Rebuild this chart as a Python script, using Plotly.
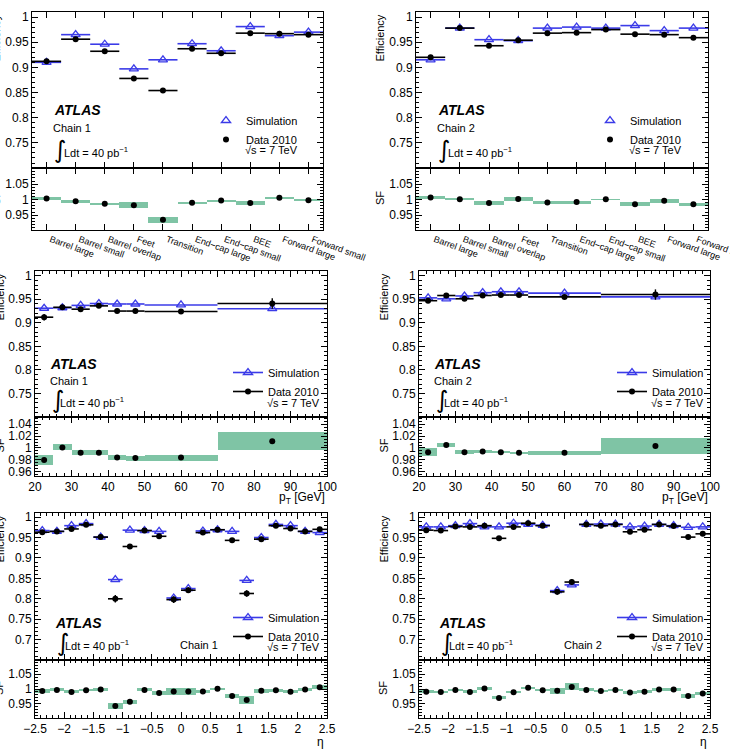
import plotly.graph_objects as go

W, H = 730, 749
FONT = "Liberation Sans, Arial, Helvetica, sans-serif"
BLUE = "#3b3be8"
GREEN = "#7fc4a5"

# ---------------- data ----------------
regions = ["Barrel large", "Barrel small", "Barrel overlap", "Feet", "Transition",
           "End\u2212cap large", "End\u2212cap small", "BEE", "Forward large", "Forward small"]
region_edges = [0, 1, 2, 3, 4, 5, 6, 7, 8, 9, 10]
pt_edges = [20, 25, 30, 35, 40, 45, 50, 70, 100]
eta_edges = [-2.5, -2.25, -2.0, -1.75, -1.5, -1.25, -1.0, -0.75, -0.5, -0.25, 0.0,
             0.25, 0.5, 0.75, 1.0, 1.25, 1.5, 1.75, 2.0, 2.25, 2.5]
sf_ticks_wide = [0.95, 1.0, 1.05]
sf_ticks_pt = [0.96, 0.98, 1.0, 1.02, 1.04]

# Chain 1 vs region
c1_reg_sim = [0.910, 0.965, 0.946, 0.897, 0.915, 0.947, 0.933, 0.981, 0.963, 0.970]
c1_reg_data = [0.912, 0.956, 0.932, 0.878, 0.854, 0.937, 0.928, 0.968, 0.967, 0.965]
c1_reg_derr = [0.003, 0.002, 0.003, 0.005, 0.004, 0.003, 0.003, 0.003, 0.003, 0.003]
c1_reg_sf = [1.004, 0.995, 0.987, 0.982, 0.935, 0.990, 0.997, 0.989, 1.006, 0.998]
c1_reg_sferr = [0.004, 0.003, 0.003, 0.010, 0.009, 0.003, 0.003, 0.006, 0.004, 0.004]

# Chain 2 vs region
c2_reg_sim = [0.915, 0.978, 0.955, 0.953, 0.978, 0.980, 0.978, 0.983, 0.973, 0.978]
c2_reg_data = [0.920, 0.978, 0.943, 0.954, 0.968, 0.969, 0.975, 0.966, 0.965, 0.959]
c2_reg_derr = [0.003, 0.002, 0.003, 0.003, 0.002, 0.002, 0.002, 0.003, 0.003, 0.003]
c2_reg_sf = [1.007, 1.001, 0.989, 1.002, 0.991, 0.992, 1.001, 0.985, 0.996, 0.985]
c2_reg_sferr = [0.005, 0.002, 0.005, 0.005, 0.003, 0.003, 0.001, 0.007, 0.006, 0.005]

# Chain 1 vs pT
c1_pt_sim = [0.931, 0.932, 0.937, 0.941, 0.940, 0.940, 0.938, 0.930]
c1_pt_data = [0.912, 0.933, 0.929, 0.936, 0.925, 0.925, 0.924, 0.941]
c1_pt_derr = [0.007, 0.003, 0.003, 0.003, 0.002, 0.002, 0.003, 0.011]
c1_pt_sf = [0.980, 1.001, 0.992, 0.992, 0.984, 0.983, 0.984, 1.0115]
c1_pt_sferr = [0.009, 0.005, 0.004, 0.004, 0.004, 0.004, 0.005, 0.015]

# Chain 2 vs pT
c2_pt_sim = [0.953, 0.951, 0.957, 0.964, 0.966, 0.966, 0.963, 0.955]
c2_pt_data = [0.947, 0.958, 0.951, 0.958, 0.959, 0.959, 0.955, 0.960]
c2_pt_derr = [0.004, 0.003, 0.003, 0.003, 0.002, 0.002, 0.003, 0.011]
c2_pt_sf = [0.993, 1.005, 0.993, 0.994, 0.993, 0.992, 0.992, 1.0035]
c2_pt_sferr = [0.007, 0.004, 0.003, 0.003, 0.002, 0.002, 0.003, 0.013]

# Chain 1 vs eta
c1_eta_sim = [0.967, 0.965, 0.979, 0.984, 0.951, 0.847, 0.968, 0.967, 0.965, 0.802,
              0.825, 0.966, 0.969, 0.965, 0.845, 0.950, 0.982, 0.979, 0.965, 0.962]
c1_eta_data = [0.963, 0.965, 0.971, 0.981, 0.951, 0.800, 0.928, 0.967, 0.953, 0.798,
               0.821, 0.962, 0.969, 0.943, 0.813, 0.946, 0.979, 0.972, 0.965, 0.970]
c1_eta_derr = [0.003, 0.003, 0.003, 0.003, 0.003, 0.009, 0.004, 0.003, 0.003, 0.008,
               0.007, 0.003, 0.003, 0.003, 0.008, 0.003, 0.003, 0.003, 0.003, 0.003]
c1_eta_sf = [0.993, 0.997, 0.990, 0.996, 0.998, 0.943, 0.957, 0.997, 0.987, 0.992,
             0.992, 0.992, 1.001, 0.977, 0.963, 0.994, 0.996, 0.991, 0.998, 1.006]
c1_eta_sferr = [0.006, 0.005, 0.005, 0.004, 0.006, 0.011, 0.006, 0.005, 0.006, 0.012,
                0.012, 0.006, 0.004, 0.006, 0.012, 0.006, 0.005, 0.005, 0.006, 0.006]

# Chain 2 vs eta
c2_eta_sim = [0.976, 0.976, 0.979, 0.984, 0.976, 0.976, 0.985, 0.982, 0.980, 0.820,
              0.834, 0.982, 0.983, 0.983, 0.976, 0.978, 0.982, 0.979, 0.975, 0.976]
c2_eta_data = [0.968, 0.967, 0.977, 0.976, 0.979, 0.948, 0.976, 0.985, 0.979, 0.817,
               0.841, 0.982, 0.979, 0.982, 0.964, 0.969, 0.982, 0.978, 0.951, 0.959]
c2_eta_derr = [0.003, 0.003, 0.003, 0.003, 0.003, 0.003, 0.003, 0.003, 0.003, 0.007,
               0.007, 0.003, 0.003, 0.003, 0.003, 0.003, 0.003, 0.003, 0.003, 0.003]
c2_eta_sf = [0.991, 0.990, 0.997, 0.990, 1.002, 0.970, 0.989, 1.004, 0.996, 0.994,
             1.007, 0.997, 0.993, 0.997, 0.988, 0.991, 0.998, 0.998, 0.977, 0.985]
c2_eta_sferr = [0.006, 0.004, 0.004, 0.005, 0.004, 0.005, 0.004, 0.003, 0.004, 0.010,
                0.012, 0.005, 0.004, 0.004, 0.004, 0.004, 0.004, 0.004, 0.006, 0.006]

# ---------------- geometry (pixels) ----------------
panels = [
    dict(kind="region", edges=region_edges, sim=c1_reg_sim, data=c1_reg_data, derr=c1_reg_derr,
         sf=c1_reg_sf, sferr=c1_reg_sferr, chain="Chain 1", px=(32, 323), main=(12, 168), ratio=(168, 230),
         yrange=[0.7001, 1.01], rrange=[0.902, 1.102], rticks=sf_ticks_wide, rminor=0.01, ytitle_x=-4),
    dict(kind="region", edges=region_edges, sim=c2_reg_sim, data=c2_reg_data, derr=c2_reg_derr,
         sf=c2_reg_sf, sferr=c2_reg_sferr, chain="Chain 2", px=(416, 708), main=(12, 168), ratio=(168, 230),
         yrange=[0.7001, 1.01], rrange=[0.902, 1.102], rticks=sf_ticks_wide, rminor=0.01, ytitle_x=380),
    dict(kind="pt", edges=pt_edges, sim=c1_pt_sim, data=c1_pt_data, derr=c1_pt_derr,
         sf=c1_pt_sf, sferr=c1_pt_sferr, chain="Chain 1", px=(35, 327), main=(271, 417), ratio=(417, 476),
         yrange=[0.7002, 1.01], rrange=[0.953, 1.052], rticks=sf_ticks_pt, rminor=0.005, ytitle_x=-1),
    dict(kind="pt", edges=pt_edges, sim=c2_pt_sim, data=c2_pt_data, derr=c2_pt_derr,
         sf=c2_pt_sf, sferr=c2_pt_sferr, chain="Chain 2", px=(419, 710), main=(271, 417), ratio=(417, 476),
         yrange=[0.7002, 1.01], rrange=[0.953, 1.052], rticks=sf_ticks_pt, rminor=0.005, ytitle_x=383),
    dict(kind="eta", edges=eta_edges, sim=c1_eta_sim, data=c1_eta_data, derr=c1_eta_derr,
         sf=c1_eta_sf, sferr=c1_eta_sferr, chain="Chain 1", px=(35, 327), main=(513, 660), ratio=(660, 718),
         yrange=[0.6502, 1.01], rrange=[0.903, 1.097], rticks=sf_ticks_wide, rminor=0.01, ytitle_x=-1),
    dict(kind="eta", edges=eta_edges, sim=c2_eta_sim, data=c2_eta_data, derr=c2_eta_derr,
         sf=c2_eta_sf, sferr=c2_eta_sferr, chain="Chain 2", px=(419, 710), main=(513, 660), ratio=(660, 718),
         yrange=[0.6502, 1.01], rrange=[0.903, 1.097], rticks=sf_ticks_wide, rminor=0.01, ytitle_x=383),
]


def fx(p):
    return p / W


def fy(p):
    return 1 - p / H


fig = go.Figure()
layout = dict(width=W, height=H, margin=dict(l=0, r=0, t=0, b=0, autoexpand=False), autosize=False,
              plot_bgcolor="white", paper_bgcolor="white", showlegend=True,
              font=dict(family=FONT, color="black"))
annotations = []

axis_base = dict(showline=True, linecolor="black", linewidth=1, mirror="ticks", ticks="inside",
                 ticklen=6, tickwidth=1, tickcolor="black", showgrid=False, zeroline=False,
                 automargin=False, ticklabeloverflow="allow",
                 tickfont=dict(family=FONT, size=12, color="black"))


def minor(dt):
    return dict(ticks="inside", ticklen=3, tickwidth=1, tickcolor="black", dtick=dt, tick0=0, showgrid=False)


def txt(x, y, text, size=11, xanchor="left", yanchor="middle", family=FONT, angle=0):
    annotations.append(dict(x=fx(x), y=fy(y), xref="paper", yref="paper", text=text, showarrow=False,
                            xanchor=xanchor, yanchor=yanchor, textangle=angle,
                            font=dict(family=family, size=size, color="black")))


for i, P in enumerate(panels):
    m, r = 2 * i + 1, 2 * i + 2
    xm = "x" if m == 1 else f"x{m}"
    ym = "y" if m == 1 else f"y{m}"
    xr, yr = f"x{r}", f"y{r}"
    xmk = "xaxis" if m == 1 else f"xaxis{m}"
    ymk = "yaxis" if m == 1 else f"yaxis{m}"
    xrk, yrk = f"xaxis{r}", f"yaxis{r}"
    leg = "legend" if i == 0 else f"legend{i + 1}"

    e = P["edges"]
    centers = [(e[k] + e[k + 1]) / 2 for k in range(len(e) - 1)]
    halfs = [(e[k + 1] - e[k]) / 2 for k in range(len(e) - 1)]
    widths = [e[k + 1] - e[k] for k in range(len(e) - 1)]

    # main panel: simulation
    fig.add_trace(go.Scatter(
        x=centers, y=P["sim"], mode="markers", xaxis=xm, yaxis=ym, showlegend=False,
        marker=dict(symbol="triangle-up-open", size=8, color=BLUE, line=dict(width=1.3, color=BLUE)),
        error_x=dict(type="data", array=halfs, color=BLUE, thickness=1.6, width=0)))
    # main panel: data
    fig.add_trace(go.Scatter(
        x=centers, y=P["data"], mode="markers", xaxis=xm, yaxis=ym, showlegend=False,
        marker=dict(symbol="circle", size=6, color="black"),
        error_x=dict(type="data", array=halfs, color="black", thickness=1.6, width=0),
        error_y=dict(type="data", array=P["derr"], color="black", thickness=1.4, width=0)))
    # ratio band
    fig.add_trace(go.Bar(
        x=centers, y=[2 * s for s in P["sferr"]], base=[v - s for v, s in zip(P["sf"], P["sferr"])],
        width=widths, xaxis=xr, yaxis=yr, showlegend=False,
        marker=dict(color=GREEN, line=dict(width=0))))
    fig.add_trace(go.Scatter(
        x=centers, y=P["sf"], mode="markers", xaxis=xr, yaxis=yr, showlegend=False,
        marker=dict(symbol="circle", size=6, color="black")))

    # legend entries
    lmode = "markers" if P["kind"] == "region" else "lines+markers"
    fig.add_trace(go.Scatter(x=[None], y=[None], mode=lmode, name="Simulation", legend=leg,
                             xaxis=xm, yaxis=ym,
                             marker=dict(symbol="triangle-up-open", size=8, color=BLUE,
                                         line=dict(width=1.3, color=BLUE)),
                             line=dict(color=BLUE, width=1.6)))
    fig.add_trace(go.Scatter(x=[None], y=[None], mode=lmode, name="Data 2010", legend=leg,
                             xaxis=xm, yaxis=ym,
                             marker=dict(symbol="circle", size=6, color="black"),
                             line=dict(color="black", width=1.6)))

    x0, x1 = P["px"]
    xdom = [fx(x0), fx(x1)]
    rng = [e[0], e[-1]]

    if P["kind"] == "region":
        xt = dict(tickmode="array", tickvals=centers, ticktext=regions)
        xt_minor = None
    elif P["kind"] == "pt":
        xt = dict(tickmode="linear", tick0=0, dtick=10)
        xt_minor = minor(2)
    else:
        xt = dict(tickmode="linear", tick0=0, dtick=0.5)
        xt_minor = minor(0.1)

    xm_ax = dict(axis_base, domain=xdom, anchor=ym, range=rng, showticklabels=False, **xt)
    xr_ax = dict(axis_base, domain=xdom, anchor=yr, range=rng, **xt)
    if xt_minor:
        xm_ax["minor"] = xt_minor
        xr_ax["minor"] = xt_minor
    if P["kind"] == "region":
        xr_ax["tickangle"] = 20
        xr_ax["ticklabelshift"] = 4
        xr_ax["tickfont"] = dict(family=FONT, size=9, color="black")

    layout[xmk] = xm_ax
    layout[xrk] = xr_ax
    layout[ymk] = dict(axis_base, domain=[fy(P["main"][1]), fy(P["main"][0])], anchor=xm,
                       range=P["yrange"], tickmode="linear", tick0=0, dtick=0.05, minor=minor(0.01))
    layout[yrk] = dict(axis_base, domain=[fy(P["ratio"][1]), fy(P["ratio"][0])], anchor=xr,
                       range=P["rrange"], tickmode="array", tickvals=P["rticks"],
                       ticktext=[f"{v:g}" for v in P["rticks"]],
                       minor=minor(P["rminor"]))

    # ----- text -----
    txt(P["ytitle_x"], P["main"][0] + 1, "Efficiency", size=11, xanchor="center", yanchor="top", angle=-90)
    txt(P["ytitle_x"], (P["ratio"][0] + P["ratio"][1]) / 2 - 1, "SF", size=11, xanchor="center",
        yanchor="middle", angle=-90)

    if P["kind"] == "region":
        atl = (x0 + 20, 110); ch = (x0 + 19, 128); integ = (x0 + 20, 150); ldt = (x0 + 30, 152)
        rs = (x0 + 211, 150); legxy = (x0 + 174, 106)
    elif P["kind"] == "pt":
        atl = (x0 + 13, 364); ch = (x0 + 13, 381); integ = (x0 + 15, 400); ldt = (x0 + 23, 402)
        rs = (x0 + 230, 403); legxy = (x0 + 193, 358)
        txt(x1, 498, "p<sub>T</sub> [GeV]", size=12, xanchor="right")
    else:
        atl = (x0 + 18, 623); ch = (x0 + 143, 645); integ = (x0 + 20, 643); ldt = (x0 + 28, 645)
        rs = (x0 + 230, 647); legxy = (x0 + 193, 603)
        txt(x1 - 1, 742, "\u03b7", size=12, xanchor="right")

    txt(atl[0], atl[1], "<b><i>ATLAS</i></b>", size=14)
    txt(ch[0], ch[1], P["chain"], size=11)
    txt(integ[0], integ[1], "\u222b", size=24, family="DejaVu Sans")
    txt(ldt[0], ldt[1], "Ldt = 40 pb<sup>\u22121</sup>", size=11)
    txt(rs[0], rs[1], "\u221as = 7 TeV", size=11)

    layout[leg] = dict(x=fx(legxy[0]), y=fy(legxy[1]), xanchor="left", yanchor="top",
                       bgcolor="rgba(0,0,0,0)", borderwidth=0, itemwidth=30, tracegroupgap=0,
                       font=dict(family=FONT, size=11, color="black"))

layout["annotations"] = annotations
layout["bargap"] = 0
fig.update_layout(**layout)
fig.write_html("out.html")
